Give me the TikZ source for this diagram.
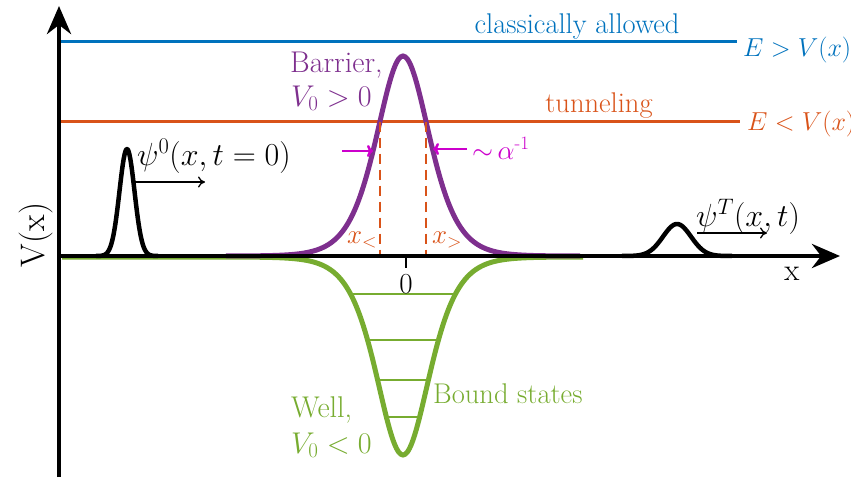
\documentclass[tikz,border=0pt]{standalone}
\usepackage{fix-cm}
\usepackage{amsmath}
\usepackage{fontspec}
\usetikzlibrary{arrows.meta}
\definecolor{mblue}{RGB}{0,114,189}
\definecolor{morange}{RGB}{217,83,25}
\definecolor{mpurple}{RGB}{126,47,142}
\definecolor{mgreen}{RGB}{119,172,48}
\definecolor{mmag}{RGB}{204,0,204}
\tikzset{
  axisline/.style={line width=4.5pt, draw=black, -{Stealth[length=28pt,width=24pt]}},
  levelline/.style={line width=3pt},
  barrierline/.style={line width=5pt, draw=mpurple},
  wellline/.style={line width=5pt, draw=mgreen},
  boundline/.style={line width=2pt, draw=mgreen},
  packet/.style={line width=4.5pt, draw=black, line join=round},
  thinarrow/.style={line width=1.3pt, draw=black, -{To[length=7pt,width=11pt]}},
  magarrow/.style={line width=2.5pt, draw=mmag, -{To[length=6pt,width=12pt]}},
  turnline/.style={line width=2.8pt, draw=morange, dash pattern=on 10pt off 6pt},
  txt/.style={inner sep=0pt, font=\fontsize{28.5}{34}\selectfont},
  btxt/.style={inner sep=0pt, font=\fontsize{30}{36}\selectfont},
  etxt/.style={inner sep=0pt, font=\fontsize{26}{31}\selectfont},
  psitxt/.style={inner sep=0pt, font=\fontsize{32}{38}\selectfont},
}
\begin{document}
\begin{tikzpicture}[x=1pt,y=-1pt]
\useasboundingbox (0,0) rectangle (851,480);
% energy levels
\coordinate (bl) at (59,41);  \coordinate (br) at (737,41);
\coordinate (ol) at (59,121.5); \coordinate (or) at (740,121.5);
\draw[levelline, mblue] (bl) -- (br);
\draw[levelline, morange] (ol) -- (or);
\node[txt, text=mblue, anchor=base] (ca) at (577,33) {classically allowed};
\node[etxt, text=mblue, anchor=base west] (eg) at (743,56) {$E>V(x)$};
\node[txt, text=morange, anchor=base] (tn) at (599,112) {tunneling};
\node[etxt, text=morange, anchor=base west] (el) at (747,130) {$E<V(x)$};
% well
\draw[wellline] (62,257) -- (226,257)
  -- plot[domain=-5:5, samples=161, smooth] ({403+35.4*\x},{257+198/(cosh(\x)*cosh(\x))})
  -- (583,257);
% bound states
\foreach \yy/\ww in {294/51.5, 340/34.5, 380/24.5, 417/15.8}
  \draw[boundline] (403-\ww,\yy) -- (403+\ww,\yy);
% barrier
\draw[barrierline] plot[domain=-5:5, samples=161, smooth] ({403+35.4*\x},{256-200/(cosh(\x)*cosh(\x))});
% turning points
\coordinate (t1) at (380,121.5); \coordinate (t1b) at (380,256);
\coordinate (t2) at (426,121.5); \coordinate (t2b) at (426,256);
\draw[turnline] (t1) -- (t1b);
\draw[turnline] (t2) -- (t2b);
\node[inner sep=0pt, text=morange, anchor=base west, font=\fontsize{27}{32}\selectfont] (xl) at (347,243) {$x_<$};
\node[inner sep=0pt, text=morange, anchor=base west, font=\fontsize{27}{32}\selectfont] (xr) at (432,243) {$x_>$};
% width arrows
\coordinate (ma1) at (342,151); \coordinate (ma1e) at (373,151);
\coordinate (ma2) at (467,149); \coordinate (ma2e) at (433,149);
\draw[magarrow] (ma1) -- (ma1e);
\draw[magarrow] (ma2) -- (ma2e);
\node[inner sep=0pt, text=mmag, anchor=base west, font=\fontsize{27}{32}\selectfont] (al) at (472,159) {${\sim}\,\alpha^{\text{-1}}$};
% packets
\draw[packet] plot[domain=96:158, samples=90, smooth] (\x,{256-107*exp(-((\x-127)/7.5)*((\x-127)/7.5)/2)});
\draw[packet] plot[domain=622:732, samples=90, smooth] (\x,{256-32*exp(-((\x-677)/14)*((\x-677)/14)/2)});
\coordinate (p0a) at (135,182); \coordinate (p0b) at (205,182);
\draw[thinarrow] (p0a) -- (p0b);
\coordinate (pTa) at (697,233); \coordinate (pTb) at (767,233);
\draw[thinarrow] (pTa) -- (pTb);
\node[psitxt, anchor=base west] (l0) at (137,165) {$\psi^0(x,t=0)$};
\node[psitxt, anchor=base west] (lT) at (696,226) {$\psi^T(x,t)$};
% labels
\node[btxt, text=mpurple, anchor=base west] (bar) at (290,72) {Barrier,};
\node[btxt, text=mpurple, anchor=base west] (bar2) at (291,106) {$V_0>0$};
\node[btxt, text=mgreen, anchor=base west] (wel) at (291,417) {Well,};
\node[btxt, text=mgreen, anchor=base west] (wel2) at (291,453) {$V_0<0$};
\node[txt, text=mgreen, anchor=base west] (bs) at (433,403) {Bound states};
% axes
\coordinate (o) at (59,256);
\coordinate (ytop) at (59,6);
\coordinate (ybot) at (59,477);
\coordinate (xend) at (840,256);
\draw[line width=1.5pt] (406,256) -- (406,268);
\node[inner sep=0pt, anchor=base, font=\fontsize{29}{34}\selectfont] (zero) at (406,293) {0};
\draw[axisline] (ybot) -- (ytop);
\draw[axisline] (o) -- (xend);
\node[inner sep=0pt, anchor=base, font=\fontsize{31}{36}\selectfont] (xlab) at (792,280) {x};
\node[inner sep=0pt, anchor=base, rotate=90, font=\fontsize{34}{40}\selectfont] (vlab) at (44,235) {V(x)};
\end{tikzpicture}
\end{document}
